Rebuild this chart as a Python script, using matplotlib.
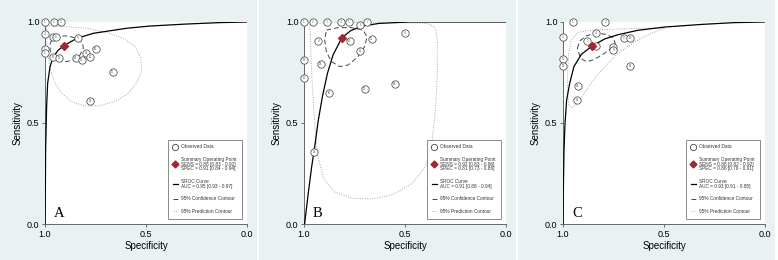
import numpy as np
import matplotlib.pyplot as plt
from matplotlib.lines import Line2D

plt.rcParams['font.family'] = ['Liberation Sans', 'DejaVu Sans']

# ---- Panel A ----
a_spec = [1.0, 0.955, 0.922, 1.0, 1.0, 1.0, 0.962, 0.946, 0.838, 0.959, 0.929,
          0.847, 0.818, 0.797, 0.777, 0.748, 0.665, 0.777]
a_sens = [1.0, 1.0, 1.0, 0.942, 0.865, 0.848, 0.924, 0.924, 0.919, 0.828, 0.824,
          0.824, 0.812, 0.848, 0.825, 0.866, 0.751, 0.609]
a_summary = (0.906, 0.883)
a_curve_spec = [1.0, 0.998, 0.997, 0.995, 0.992, 0.987, 0.975, 0.959, 0.934, 0.906,
                0.843, 0.761, 0.596, 0.480, 0.299, 0.134, 0.0]
a_curve_sens = [0.0, 0.201, 0.366, 0.449, 0.581, 0.696, 0.779, 0.828, 0.861, 0.883,
                0.919, 0.944, 0.969, 0.980, 0.990, 0.997, 1.0]
a_conf_spec = [0.975, 0.959, 0.926, 0.884, 0.843, 0.814, 0.810, 0.827, 0.860, 0.893, 0.934, 0.962, 0.975]
a_conf_sens = [0.894, 0.919, 0.931, 0.931, 0.919, 0.894, 0.870, 0.837, 0.812, 0.804, 0.809, 0.828, 0.861]
a_pred_spec = [0.992, 0.893, 0.794, 0.695, 0.612, 0.554, 0.525, 0.521, 0.543, 0.587, 0.653,
               0.736, 0.802, 0.868, 0.917, 0.955, 0.975, 0.987, 0.992]
a_pred_sens = [0.980, 0.977, 0.969, 0.949, 0.919, 0.878, 0.820, 0.762, 0.705, 0.647, 0.606,
               0.584, 0.584, 0.606, 0.647, 0.705, 0.771, 0.845, 0.911]
a_text = ["SENS = 0.88 [0.83 - 0.92]", "SPEC = 0.91 [0.84 - 0.94]", "AUC = 0.95 [0.93 - 0.97]"]

# ---- Panel B ----
b_spec = [1.0, 0.955, 0.888, 0.817, 0.777, 0.721, 0.686, 0.5, 0.929, 0.774, 0.665,
          0.721, 1.0, 0.916, 1.0, 0.876, 0.700, 0.550, 0.949]
b_sens = [1.0, 1.0, 1.0, 1.0, 1.0, 0.985, 1.0, 0.947, 0.904, 0.904, 0.914,
          0.858, 0.812, 0.790, 0.723, 0.647, 0.667, 0.693, 0.356]
b_summary = (0.813, 0.921)
b_curve_spec = [0.997, 0.979, 0.962, 0.947, 0.929, 0.909, 0.884, 0.856, 0.813, 0.769,
                0.711, 0.629, 0.480, 0.0]
b_curve_sens = [0.0, 0.152, 0.284, 0.383, 0.515, 0.630, 0.746, 0.837, 0.921, 0.957,
                0.980, 0.993, 1.0, 1.0]
b_conf_spec = [0.889, 0.832, 0.766, 0.708, 0.688, 0.700, 0.733, 0.782, 0.823, 0.865, 0.889, 0.898]
b_conf_sens = [0.960, 0.972, 0.972, 0.960, 0.927, 0.878, 0.828, 0.787, 0.779, 0.804, 0.853, 0.911]
b_pred_spec = [0.970, 0.810, 0.563, 0.389, 0.351, 0.340, 0.340, 0.348, 0.365, 0.398, 0.464,
               0.563, 0.662, 0.761, 0.851, 0.904, 0.934, 0.950, 0.960, 0.967]
b_pred_sens = [0.993, 0.998, 0.998, 0.993, 0.974, 0.911, 0.746, 0.581, 0.416, 0.284, 0.201,
               0.144, 0.124, 0.127, 0.160, 0.226, 0.350, 0.540, 0.705, 0.870]
b_text = ["SENS = 0.92 [0.83 - 0.96]", "SPEC = 0.81 [0.73 - 0.86]", "AUC = 0.91 [0.88 - 0.94]"]

# ---- Panel C ----
c_spec = [0.952, 0.790, 1.0, 0.838, 0.880, 0.838, 0.751, 0.751, 0.698, 0.668,
          1.0, 1.0, 0.668, 0.926, 0.929]
c_sens = [1.0, 1.0, 0.927, 0.947, 0.906, 0.881, 0.878, 0.862, 0.919, 0.919,
          0.815, 0.784, 0.782, 0.685, 0.615]
c_summary = (0.856, 0.881)
c_curve_spec = [1.0, 0.998, 0.995, 0.990, 0.982, 0.967, 0.946, 0.909, 0.856, 0.794,
                0.728, 0.629, 0.497, 0.315, 0.150, 0.0]
c_curve_sens = [0.0, 0.185, 0.366, 0.498, 0.614, 0.696, 0.779, 0.840, 0.881, 0.916,
                0.937, 0.959, 0.975, 0.988, 0.997, 1.0]
c_conf_spec = [0.929, 0.917, 0.884, 0.835, 0.785, 0.752, 0.741, 0.761, 0.802, 0.851, 0.884, 0.913]
c_conf_sens = [0.870, 0.906, 0.932, 0.944, 0.939, 0.922, 0.894, 0.870, 0.840, 0.812, 0.804, 0.820]
c_pred_spec = [0.497, 0.563, 0.645, 0.728, 0.794, 0.843, 0.884, 0.922, 0.954, 0.970, 0.977,
               0.977, 0.972, 0.959, 0.926, 0.860, 0.728, 0.596]
c_pred_sens = [0.969, 0.944, 0.903, 0.845, 0.779, 0.721, 0.663, 0.606, 0.578, 0.584, 0.647,
               0.746, 0.845, 0.911, 0.949, 0.960, 0.965, 0.970]
c_text = ["SENS = 0.88 [0.82 - 0.92]", "SPEC = 0.86 [0.76 - 0.91]", "AUC = 0.93 [0.91 - 0.95]"]

panels = [
    ("A", a_spec, a_sens, a_summary, a_curve_spec, a_curve_sens, a_conf_spec, a_conf_sens, a_pred_spec, a_pred_sens, a_text),
    ("B", b_spec, b_sens, b_summary, b_curve_spec, b_curve_sens, b_conf_spec, b_conf_sens, b_pred_spec, b_pred_sens, b_text),
    ("C", c_spec, c_sens, c_summary, c_curve_spec, c_curve_sens, c_conf_spec, c_conf_sens, c_pred_spec, c_pred_sens, c_text),
]

bg = '#e9f1f3'
red = '#9e2a2f'
fig = plt.figure(figsize=(7.78, 2.6), dpi=100)
fig.patch.set_facecolor('white')

lefts = [45, 304, 563]
for i, (letter, sp, se, summ, csp, cse, fsp, fse, psp, pse, txt) in enumerate(panels):
    # light background of each panel
    fig.patches.append(plt.Rectangle(((lefts[i] - 45) / 778, 0.0), 257 / 778, 1.0,
                                     transform=fig.transFigure, facecolor=bg, edgecolor='none', zorder=-10))
    ax = fig.add_axes([lefts[i] / 778, 36 / 260, 202 / 778, 202 / 260])
    ax.set_facecolor('white')

    # prediction contour (dotted) and confidence contour (dashed)
    ax.plot(psp + psp[:1], pse + pse[:1], linestyle=(0, (1, 1.5)), color='#a8a8a8', lw=0.7, zorder=2)
    ax.plot(fsp + fsp[:1], fse + fse[:1], linestyle=(0, (5, 3)), color='#444444', lw=0.7, zorder=3)
    # SROC curve
    ax.plot(csp, cse, color='black', lw=0.9, zorder=4)
    # observed data
    ax.scatter(sp, se, s=28, facecolor='white', edgecolor='#555555', linewidths=0.6, zorder=5, clip_on=False)
    for k, (x, y) in enumerate(zip(sp, se)):
        ax.text(x, y, str(k + 1), fontsize=2.2, color='#555555', ha='center', va='center', zorder=6, clip_on=False)
    # summary point
    ax.scatter([summ[0]], [summ[1]], marker='D', s=16, color=red, zorder=7)

    ax.set_xlim(1.0, 0.0)
    ax.set_ylim(0.0, 1.0)
    ax.set_xticks([1.0, 0.5, 0.0])
    ax.set_yticks([0.0, 0.5, 1.0])
    ax.set_xticklabels(['1.0', '0.5', '0.0'])
    ax.set_yticklabels(['0.0', '0.5', '1.0'])
    ax.tick_params(labelsize=6.5, length=2.5, width=0.6, color='#555555', pad=1.5)
    for s in ['top', 'right']:
        ax.spines[s].set_visible(False)
    for s in ['left', 'bottom']:
        ax.spines[s].set_color('#666666')
        ax.spines[s].set_linewidth(0.7)
    ax.set_xlabel('Specificity', fontsize=7, labelpad=1.5)
    ax.set_ylabel('Sensitivity', fontsize=7, labelpad=3)

    ax.text(0.045, 0.02, letter, transform=ax.transAxes, fontsize=10.5,
            family='Liberation Serif', ha='left', va='bottom')

    handles = [
        Line2D([], [], marker='o', linestyle='none', markersize=4.5, markerfacecolor='white',
               markeredgecolor='#444444', markeredgewidth=0.6),
        Line2D([], [], marker='D', linestyle='none', markersize=3.5, color=red),
        Line2D([], [], color='black', lw=0.9),
        Line2D([], [], color='#444444', lw=0.7, linestyle=(0, (5, 3))),
        Line2D([], [], color='#a8a8a8', lw=0.7, linestyle=(0, (1, 1.5))),
    ]
    labels = [
        'Observed Data',
        'Summary Operating Point\n' + txt[0] + '\n' + txt[1],
        'SROC Curve\n' + txt[2],
        '95% Confidence Contour',
        '95% Prediction Contour',
    ]
    leg = ax.legend(handles, labels, loc='lower right', bbox_to_anchor=(0.985, 0.015),
                    fontsize=3.4, frameon=True, fancybox=False, handlelength=1.0,
                    handletextpad=0.8, labelspacing=1.6, borderpad=1.0)
    leg.get_frame().set_edgecolor('#555555')
    leg.get_frame().set_linewidth(0.6)
    for t in leg.get_texts():
        t.set_color('#333333')
        t.set_linespacing(0.95)

fig.savefig('out.png', dpi=100, facecolor=fig.get_facecolor())
